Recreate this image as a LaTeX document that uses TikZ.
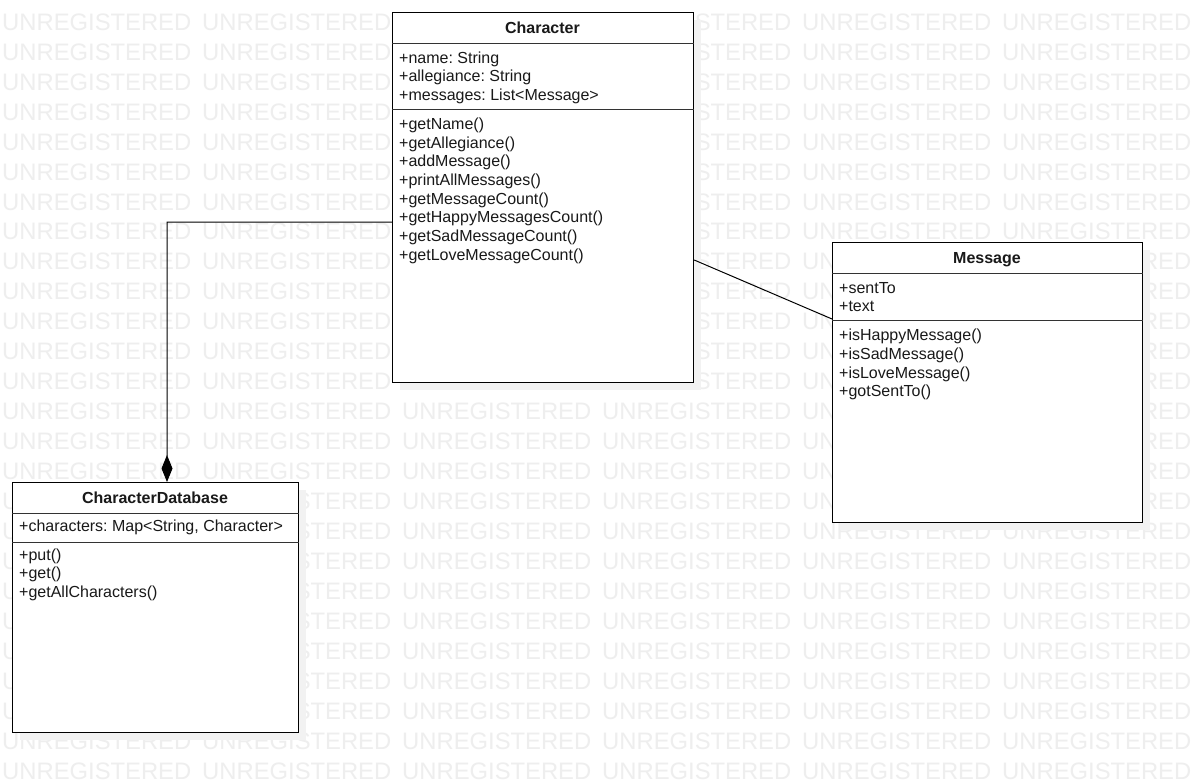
\documentclass[tikz,border=0pt]{standalone}
\usepackage{fontspec}
\setmainfont{Liberation Sans}
\usetikzlibrary{arrows.meta}
\frenchspacing
\definecolor{wmc}{RGB}{238,238,238}
\definecolor{shc}{RGB}{242,242,242}
\definecolor{txc}{RGB}{25,25,25}
\tikzset{
 wm/.style={font=\fontsize{23.8bp}{24bp}\selectfont, text=wmc, inner sep=0pt, anchor=base west},
 umlbox/.style={draw=black, line width=1.2bp, fill=white, inner sep=0pt, anchor=north west},
 sep/.style={draw=black!80, line width=1bp},
 txt/.style={font=\fontsize{16bp}{18bp}\selectfont, text=txc, inner sep=0pt, anchor=base west},
 ttl/.style={font=\bfseries\fontsize{16bp}{18bp}\selectfont, text=txc, inner sep=0pt, anchor=base},
 conn/.style={draw=black, line width=1bp},
}
\begin{document}
\begin{tikzpicture}[x=1bp,y=-1bp]
\useasboundingbox (0,0) rectangle (1192,782);
\fill[white] (0,0) rectangle (1192,782);
% watermark
\foreach \r in {0,...,25}{
  \foreach \c in {0,...,5}{
    \node[wm] (wm-\r-\c) at ({2+200*\c},{30.3+29.95*\r}) {UNREGISTERED};
  }
}
% shadows
\fill[shc] (400,20) rectangle (701,390);
\fill[shc] (840,250) rectangle (1150,530);
\fill[shc] (20,490) rectangle (306,740);
% boxes
\node[umlbox, minimum width=301bp, minimum height=370bp] (char) at (392,12) {};
\node[umlbox, minimum width=310bp, minimum height=280bp] (msg) at (832,242) {};
\node[umlbox, minimum width=286bp, minimum height=250bp] (db) at (12,482) {};
% separators
\draw[sep] ([yshift=-32bp]char.north west) -- ([yshift=-32bp]char.north east);
\draw[sep] ([yshift=-97bp]char.north west) -- ([yshift=-97bp]char.north east);
\draw[sep] ([yshift=-31bp]msg.north west) -- ([yshift=-31bp]msg.north east);
\draw[sep] ([yshift=-78bp]msg.north west) -- ([yshift=-78bp]msg.north east);
\draw[sep] ([yshift=-31bp]db.north west) -- ([yshift=-31bp]db.north east);
\draw[sep] ([yshift=-60bp]db.north west) -- ([yshift=-60bp]db.north east);
% titles
\node[ttl] (charT) at (542.5,33.3) {Character};
\node[ttl] (msgT) at (987,263.3) {Message};
\node[ttl] (dbT) at (155,503.3) {CharacterDatabase};
% Character attributes
\node[txt] (ca1) at (399,63.3) {+name: String};
\node[txt] (ca2) at (399,82.0) {+allegiance: String};
\node[txt] (ca3) at (399,100.7) {+messages: List<Message>};
% Character methods
\foreach \t [count=\i] in {+getName(),+getAllegiance(),+addMessage(),+printAllMessages(),+getMessageCount(),+getHappyMessagesCount(),+getSadMessageCount(),+getLoveMessageCount()}{
  \node[txt] (cm\i) at (399,{129.3+18.7*(\i-1)}) {\t};
}
% Message
\node[txt] (ma1) at (839,293.3) {+sentTo};
\node[txt] (ma2) at (839,311.8) {+text};
\foreach \t [count=\i] in {+isHappyMessage(),+isSadMessage(),+isLoveMessage(),+gotSentTo()}{
  \node[txt] (mm\i) at (839,{340.7+18.7*(\i-1)}) {\t};
}
% CharacterDatabase
\node[txt] (da1) at (19,531.7) {+characters: Map<String, Character>};
\foreach \t [count=\i] in {+put(),+get(),+getAllCharacters()}{
  \node[txt] (dm\i) at (19,{560+18.7*(\i-1)}) {\t};
}
% connectors
\coordinate (bend) at (167,222);
\draw[conn, line join=miter, -{Diamond[width=11bp,length=27bp,fill=black]}] ([yshift=-210bp]char.north west) -- (bend) -- ([xshift=155bp]db.north west);
\draw[conn] ([yshift=-248bp]char.north east) -- ([yshift=-77bp]msg.north west);
\end{tikzpicture}
\end{document}
